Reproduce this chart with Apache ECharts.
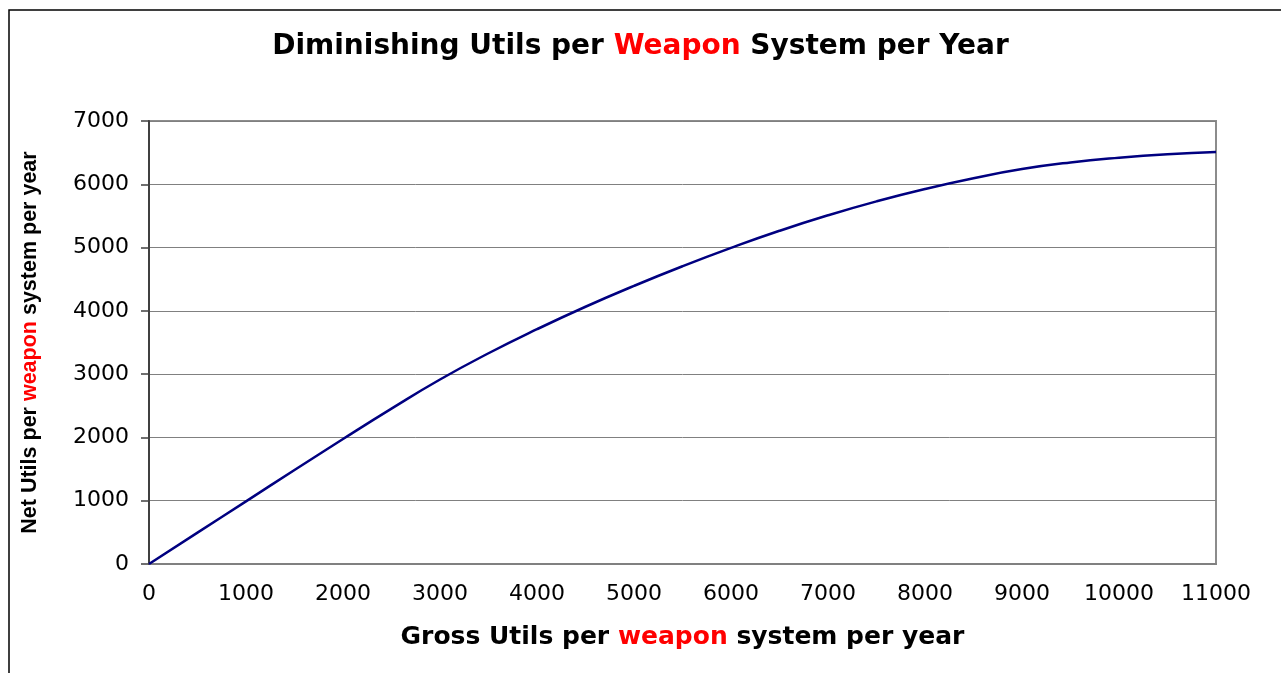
<!DOCTYPE html>
<html>
<head>
<meta charset="utf-8">
<script src="https://cdn.jsdelivr.net/npm/echarts@6/dist/echarts.min.js"></script>
<style>
html,body{margin:0;padding:0;background:#fff;}
#chart{width:1281px;height:673px;}
</style>
</head>
<body>
<div id="chart"></div>
<script>
const grossUtils = [0, 500, 1000, 1500, 2000, 2500, 3000, 3500, 4000, 4500, 5000, 5500, 6000, 6500, 7000, 7500, 8000, 8500, 9000, 9500, 10000, 10500, 11000];
const netUtils   = [0, 495, 990, 1485, 1975, 2455, 2915, 3330, 3710, 4065, 4395, 4705, 4995, 5265, 5510, 5730, 5925, 6095, 6240, 6345, 6420, 6475, 6510];

const seriesData = grossUtils.map((g, i) => [g, netUtils[i]]);

const chart = echarts.init(document.getElementById('chart'), null, {renderer: 'canvas'});
const fontLabel = 'DejaVu Sans';
const fontBold = 'DejaVu Sans';

chart.setOption({
  animation: false,
  backgroundColor: '#ffffff',
  graphic: [{
    type: 'rect',
    shape: {x: 9, y: 10, width: 1400, height: 800},
    style: {fill: 'none', stroke: '#000', lineWidth: 1.5},
    silent: true
  }],
  title: {
    text: '{a|Diminishing Utils per }{r|Weapon}{a| System per Year}',
    left: 'center',
    top: 28,
    textStyle: {
      rich: {
        a: {fontFamily: fontBold, fontWeight: 'bold', fontSize: 28, color: '#000'},
        r: {fontFamily: fontBold, fontWeight: 'bold', fontSize: 28, color: '#ff0000'}
      }
    }
  },
  grid: {
    left: 149, right: 65, top: 121, bottom: 109,
    show: true, borderColor: '#8c8c8c', borderWidth: 2,
    containLabel: false
  },
  xAxis: {
    type: 'value',
    min: 0, max: 11000, interval: 1000,
    axisLine: {show: true, lineStyle: {color: '#808080', width: 2}},
    axisTick: {show: false},
    splitLine: {show: false},
    axisLabel: {color: '#000', fontFamily: fontLabel, fontSize: 22, margin: 19, formatter: v => String(v)},
    name: '{a|Gross Utils per }{r|weapon}{a| system per year}',
    nameLocation: 'middle',
    nameGap: 61,
    nameTextStyle: {
      rich: {
        a: {fontFamily: fontBold, fontWeight: 'bold', fontSize: 25, color: '#000'},
        r: {fontFamily: fontBold, fontWeight: 'bold', fontSize: 25, color: '#ff0000'}
      }
    }
  },
  yAxis: {
    type: 'value',
    min: 0, max: 7000, interval: 1000,
    axisLine: {show: true, lineStyle: {color: '#404040', width: 2}},
    axisTick: {show: true, inside: false, length: 8, lineStyle: {color: '#404040', width: 1.5}},
    splitLine: {show: true, lineStyle: {color: '#808080', width: 1}},
    axisLabel: {color: '#000', fontFamily: fontLabel, fontSize: 22, margin: 20, formatter: v => String(v)},
    name: '{a|Net Utils per }{r|weapon}{a| system per year}',
    nameLocation: 'middle',
    nameRotate: 90,
    nameGap: 108,
    nameTextStyle: {
      rich: {
        a: {fontFamily: 'Liberation Sans', fontWeight: 'bold', fontSize: 21.5, color: '#000'},
        r: {fontFamily: 'Liberation Sans', fontWeight: 'bold', fontSize: 21.5, color: '#ff0000'}
      }
    }
  },
  series: [{
    type: 'line',
    data: seriesData,
    smooth: true,
    showSymbol: false,
    lineStyle: {color: '#000080', width: 2.5},
    itemStyle: {color: '#000080'}
  }]
});
</script>
</body>
</html>
